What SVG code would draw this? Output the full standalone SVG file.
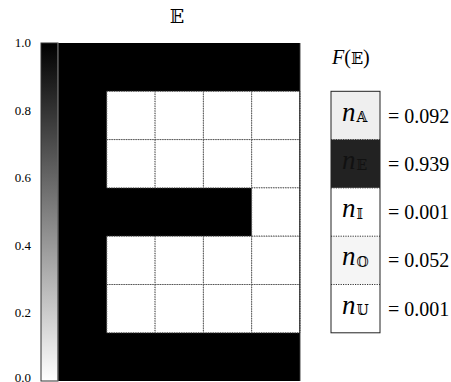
<svg xmlns="http://www.w3.org/2000/svg" width="451" height="382" viewBox="0 0 451 382">
<defs>
<style>
.cell{fill:#fff;stroke:#555;stroke-width:1;stroke-dasharray:1.2,1.2}
.div{stroke:#333;stroke-width:1;stroke-dasharray:1.2,1.2}
</style>
<linearGradient id="cb" x1="0" y1="0" x2="0" y2="1">
<stop offset="0" stop-color="#000"/>
<stop offset="1" stop-color="#fff"/>
</linearGradient>
</defs>
<rect width="451" height="382" fill="#fff"/>
<g id="title"><text font-family="DejaVu Serif, serif" x="177" y="23" font-size="19" text-anchor="middle">𝔼</text></g>
<g id="colorbar" font-family="Liberation Serif, serif" font-size="13" text-anchor="end">
<rect x="41" y="43" width="17" height="338" fill="url(#cb)" stroke="#333" stroke-width="1"/>
<line x1="58" y1="43" x2="58" y2="381" stroke="#777" stroke-width="1.2"/>
<text x="31" y="47">1.0</text>
<text x="31" y="114.6">0.8</text>
<text x="31" y="182.2">0.6</text>
<text x="31" y="249.8">0.4</text>
<text x="31" y="317.4">0.2</text>
<text x="31" y="381.5">0.0</text>
</g>
<g id="grid">
<rect x="58.5" y="43" width="241.5" height="338" fill="#000"/>
<rect class="cell" x="106.8" y="91.3" width="48.3" height="48.3"/>
<rect class="cell" x="155.1" y="91.3" width="48.3" height="48.3"/>
<rect class="cell" x="203.4" y="91.3" width="48.3" height="48.3"/>
<rect class="cell" x="251.7" y="91.3" width="48.3" height="48.3"/>
<rect class="cell" x="106.8" y="139.6" width="48.3" height="48.3"/>
<rect class="cell" x="155.1" y="139.6" width="48.3" height="48.3"/>
<rect class="cell" x="203.4" y="139.6" width="48.3" height="48.3"/>
<rect class="cell" x="251.7" y="139.6" width="48.3" height="48.3"/>
<rect class="cell" x="251.7" y="187.9" width="48.3" height="48.3"/>
<rect class="cell" x="106.8" y="236.2" width="48.3" height="48.3"/>
<rect class="cell" x="155.1" y="236.2" width="48.3" height="48.3"/>
<rect class="cell" x="203.4" y="236.2" width="48.3" height="48.3"/>
<rect class="cell" x="251.7" y="236.2" width="48.3" height="48.3"/>
<rect class="cell" x="106.8" y="284.5" width="48.3" height="48.3"/>
<rect class="cell" x="155.1" y="284.5" width="48.3" height="48.3"/>
<rect class="cell" x="203.4" y="284.5" width="48.3" height="48.3"/>
<rect class="cell" x="251.7" y="284.5" width="48.3" height="48.3"/>
<line x1="299.8" y1="43" x2="299.8" y2="381" stroke="#222" stroke-width="1.2"/>
</g>
<g id="frequency">
<text font-family="Liberation Serif, serif" x="332" y="64" font-size="20"><tspan font-style="italic">F</tspan>(<tspan font-family="DejaVu Serif, serif" font-size="16">𝔼</tspan>)</text>
<rect x="331" y="91.3" width="49" height="48.3" fill="#efefef"/>
<rect x="331" y="139.6" width="49" height="48.3" fill="#222"/>
<rect x="331" y="187.9" width="49" height="48.3" fill="#fff"/>
<rect x="331" y="236.2" width="49" height="48.3" fill="#f5f5f5"/>
<rect x="331" y="284.5" width="49" height="48.3" fill="#fff"/>
<line class="div" x1="331" y1="139.6" x2="380" y2="139.6"/>
<line class="div" x1="331" y1="187.9" x2="380" y2="187.9"/>
<line class="div" x1="331" y1="236.2" x2="380" y2="236.2"/>
<line class="div" x1="331" y1="284.5" x2="380" y2="284.5"/>
<rect x="331" y="91.3" width="49" height="241.5" fill="none" stroke="#222" stroke-width="1"/>
<g font-family="Liberation Serif, serif" font-style="italic" font-size="27">
<text x="342" y="120.5">n<tspan font-family="DejaVu Serif, serif" font-style="normal" font-size="14" dx="1" dy="1.5">𝔸</tspan></text>
<text x="342" y="168.8" fill="#111">n<tspan font-family="DejaVu Serif, serif" font-style="normal" font-size="14" dx="1" dy="1.5">𝔼</tspan></text>
<text x="342" y="217.1">n<tspan font-family="DejaVu Serif, serif" font-style="normal" font-size="14" dx="1" dy="1.5">𝕀</tspan></text>
<text x="342" y="265.4">n<tspan font-family="DejaVu Serif, serif" font-style="normal" font-size="14" dx="1" dy="1.5">𝕆</tspan></text>
<text x="342" y="313.7">n<tspan font-family="DejaVu Serif, serif" font-style="normal" font-size="14" dx="1" dy="1.5">𝕌</tspan></text>
</g>
<g font-family="Liberation Serif, serif" font-size="20">
<text x="388" y="122.5">= 0.092</text>
<text x="388" y="170.8">= 0.939</text>
<text x="388" y="219.1">= 0.001</text>
<text x="388" y="267.4">= 0.052</text>
<text x="388" y="315.7">= 0.001</text>
</g>
</g>
<g id="connectors"></g>
</svg>
